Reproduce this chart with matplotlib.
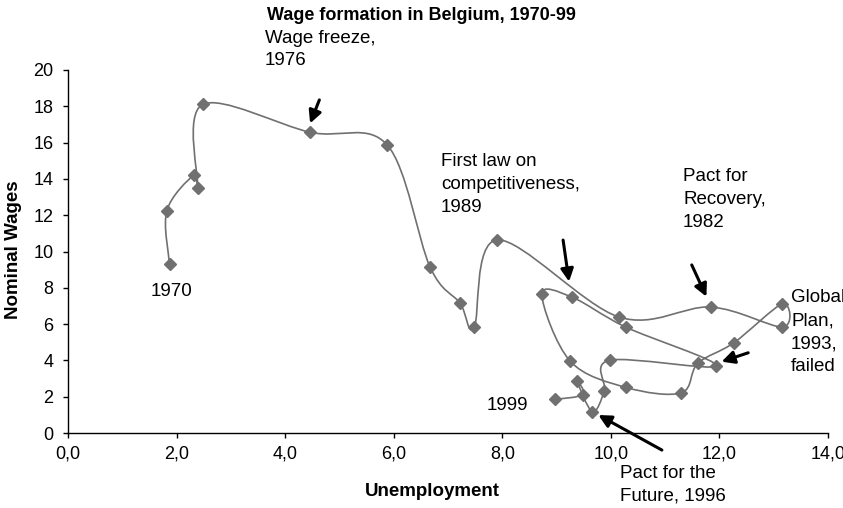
import numpy as np
import matplotlib
matplotlib.use("Agg")
from matplotlib import pyplot as plt
from matplotlib.path import Path
from matplotlib.patches import PathPatch
from matplotlib.ticker import FuncFormatter

plt.rcParams['font.family'] = ['Liberation Sans', 'DejaVu Sans']

# Belgium 1970-99: unemployment rate vs nominal wage growth
years = list(range(1970, 2000))
unemployment = [1.87, 1.82, 2.32, 2.39, 2.48, 4.46, 5.88, 6.67, 7.22, 7.48,
                7.91, 10.15, 11.84, 13.16, 13.16, 12.27, 11.60, 11.30, 10.28, 9.25,
                8.73, 9.28, 10.27, 11.94, 9.98, 9.88, 9.66, 9.37, 9.49, 8.97]
wages = [9.31, 12.25, 14.21, 13.48, 18.1, 16.57, 15.87, 9.14, 7.16, 5.82,
         10.64, 6.39, 6.94, 5.84, 7.12, 4.98, 3.83, 2.22, 2.51, 3.96,
         7.64, 7.49, 5.84, 3.70, 4.01, 2.33, 1.17, 2.88, 2.12, 1.85]

x_ticks = [0, 2, 4, 6, 8, 10, 12, 14]
y_ticks = [0, 2, 4, 6, 8, 10, 12, 14, 16, 18, 20]

line_col = '#707070'


def smooth_path(xs, ys):
    # Excel style smoothed line: cubic bezier segments (catmull-rom tangents)
    pts = np.column_stack([xs, ys])
    n = len(pts)
    verts = [pts[0]]
    codes = [Path.MOVETO]
    for i in range(n - 1):
        p0 = pts[i - 1] if i > 0 else pts[i]
        p1 = pts[i]
        p2 = pts[i + 1]
        p3 = pts[i + 2] if i + 2 < n else pts[i + 1]
        c1 = p1 + (p2 - p0) / 6.0
        c2 = p2 - (p3 - p1) / 6.0
        verts += [c1, c2, p2]
        codes += [Path.CURVE4] * 3
    return Path(verts, codes)


fig = plt.figure(figsize=(8.43, 5.08), dpi=100)
ax = fig.add_axes([68 / 843, 75 / 508, 760 / 843, 363 / 508])

patch = PathPatch(smooth_path(unemployment, wages), facecolor='none',
                  edgecolor=line_col, lw=1.2)
ax.add_patch(patch)
ax.plot(unemployment, wages, linestyle='none', marker='D', markersize=5.8,
        color=line_col, markeredgecolor=line_col)

ax.set_xlim(0, 14)
ax.set_ylim(0, 20)
ax.set_xticks(x_ticks)
ax.set_yticks(y_ticks)
ax.xaxis.set_major_formatter(FuncFormatter(lambda v, p: f"{v:.1f}".replace('.', ',')))
ax.tick_params(axis='both', direction='out', length=3.6, width=1, labelsize=13,
               colors='black')
ax.tick_params(axis='x', pad=5.5)
ax.tick_params(axis='y', pad=7)
for s in ['top', 'right']:
    ax.spines[s].set_visible(False)
for s in ['left', 'bottom']:
    ax.spines[s].set_color('black')
    ax.spines[s].set_linewidth(1)

fig.text(0.5, 1 - 15 / 508, 'Wage formation in Belgium, 1970-99', ha='center',
         va='center', fontsize=13, fontweight='bold')
fig.text(432 / 843, 1 - 492 / 508, 'Unemployment', ha='center', va='center',
         fontsize=13.5, fontweight='bold')
fig.text(14 / 843, 1 - 250 / 508, 'Nominal Wages', ha='center', va='center',
         rotation=90, fontsize=13.5, fontweight='bold')

txt = dict(fontsize=13.5, linespacing=1.45, va='center', ha='left', clip_on=False)
ax.text(1.9, 7.82, '1970', **dict(txt, ha='center'))
ax.text(8.10, 1.54, '1999', **dict(txt, ha='center'))
ax.text(3.63, 21.13, 'Wage freeze,\n1976', **txt)
ax.text(6.87, 13.69, 'First law on\ncompetitiveness,\n1989', **txt)
ax.text(11.33, 12.86, 'Pact for\nRecovery,\n1982', **txt)
ax.text(13.32, 5.56, 'Global\nPlan,\n1993,\nfailed', **txt)
ax.text(10.17, -2.84, 'Pact for the\nFuture, 1996', **txt)

arrow = dict(arrowstyle='-|>,head_length=0.75,head_width=0.38', color='black',
             lw=2.2, shrinkA=0, shrinkB=0)
for tail, tip in [((4.63, 18.35), (4.46, 17.06)),
                  ((9.12, 10.63), (9.23, 8.34)),
                  ((11.49, 9.26), (11.76, 7.51)),
                  ((12.53, 4.42), (12.04, 3.93)),
                  ((10.94, -0.94), (9.77, 0.99))]:
    ax.annotate('', xy=tip, xytext=tail, arrowprops=arrow, annotation_clip=False)

fig.savefig('out.png', dpi=100)
